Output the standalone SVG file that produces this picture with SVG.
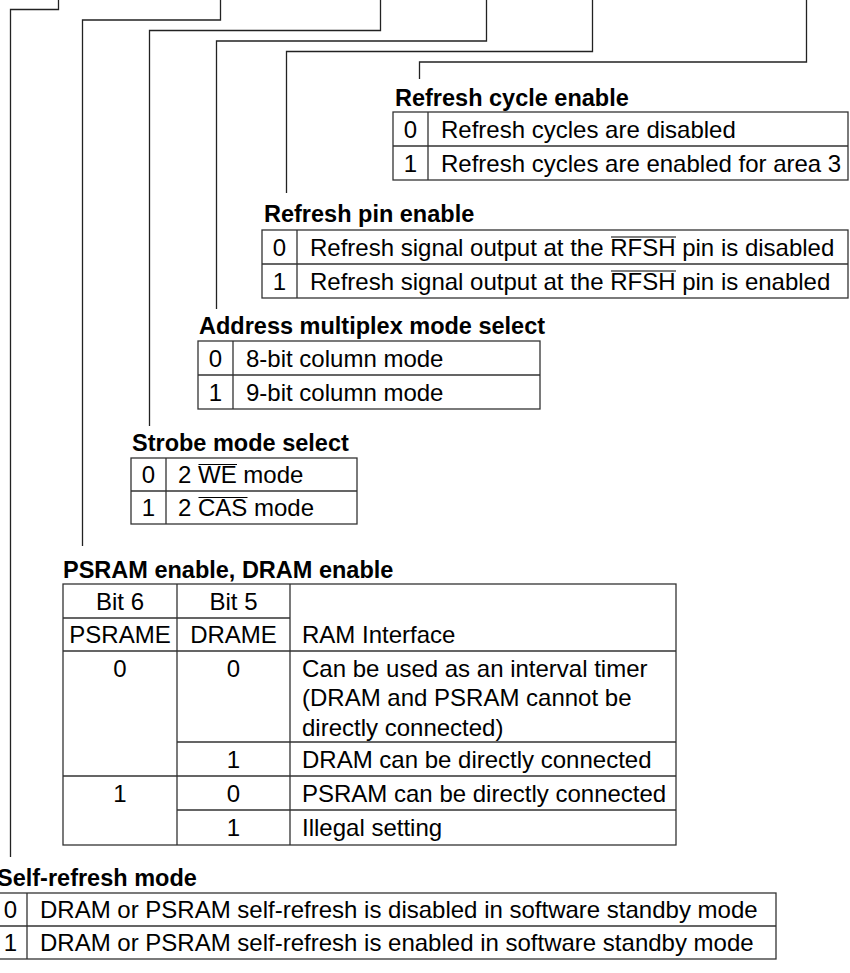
<svg xmlns="http://www.w3.org/2000/svg" width="850" height="973" viewBox="0 0 850 973">
<style>
.t{font-family:"Liberation Sans",Arial,sans-serif;font-size:24px;fill:#000}
.h{font-family:"Liberation Sans",Arial,sans-serif;font-size:23.5px;font-weight:bold;fill:#000}
.m{text-anchor:middle}
.b{fill:none;stroke:#333;stroke-width:1.3}
.c{fill:none;stroke:#222;stroke-width:1.3}
.ol{fill:none;stroke:#000;stroke-width:1.1}
</style>
<rect width="850" height="973" fill="#fff"/>
<g id="connectors">
<path class="c" d="M58.5,0 V9.5 H10.5 V857"/>
<path class="c" d="M220.5,0 V20 H82.5 V546"/>
<path class="c" d="M380.5,0 V30.5 H149.5 V426"/>
<path class="c" d="M486.5,0 V41 H216.5 V309"/>
<path class="c" d="M592.5,0 V51.5 H286.5 V193"/>
<path class="c" d="M806.5,0 V62 H419.5 V79"/>
</g>
<g id="refresh-cycle-enable">
<text class="h" x="395" y="106">Refresh cycle enable</text>
<rect class="b" x="393" y="112" width="455" height="68"/>
<path class="b" d="M428,112 V180 M393,146 H848"/>
<text class="t m" x="410.5" y="137.5">0</text>
<text class="t" x="441" y="137.5">Refresh cycles are disabled</text>
<text class="t m" x="410.5" y="171.5">1</text>
<text class="t" x="441" y="171.5">Refresh cycles are enabled for area 3</text>
</g>
<g id="refresh-pin-enable">
<text class="h" x="264" y="222">Refresh pin enable</text>
<rect class="b" x="262" y="230" width="586" height="68"/>
<path class="b" d="M297,230 V298 M262,264 H848"/>
<text class="t m" x="279.5" y="255.5">0</text>
<text class="t" x="310" y="255.5">Refresh signal output at the RFSH pin is disabled</text>
<path class="ol" d="M611,237 H676"/>
<text class="t m" x="279.5" y="289.5">1</text>
<text class="t" x="310" y="289.5">Refresh signal output at the RFSH pin is enabled</text>
<path class="ol" d="M611,271 H676"/>
</g>
<g id="address-multiplex-mode-select">
<text class="h" x="199" y="334">Address multiplex mode select</text>
<rect class="b" x="198" y="341" width="342" height="68"/>
<path class="b" d="M233,341 V409 M198,375 H540"/>
<text class="t m" x="215.5" y="366.5">0</text>
<text class="t" x="246" y="366.5">8-bit column mode</text>
<text class="t m" x="215.5" y="400.5">1</text>
<text class="t" x="246" y="400.5">9-bit column mode</text>
</g>
<g id="strobe-mode-select">
<text class="h" x="132" y="451">Strobe mode select</text>
<rect class="b" x="131" y="458" width="226" height="66"/>
<path class="b" d="M166,458 V524 M131,491 H357"/>
<text class="t m" x="148.5" y="483">0</text>
<text class="t" x="178" y="483">2 WE mode</text>
<path class="ol" d="M198.5,464.5 H237"/>
<text class="t m" x="148.5" y="516">1</text>
<text class="t" x="178" y="516">2 CAS mode</text>
<path class="ol" d="M198.5,497.5 H247.5"/>
</g>
<g id="psram-dram-enable">
<text class="h" x="63" y="578">PSRAM enable, DRAM enable</text>
<rect class="b" x="63" y="584" width="613" height="261"/>
<path class="b" d="M177,584 V845 M290,584 V845 M63,618 H290 M63,651 H676 M177,742 H676 M63,776 H676 M177,810 H676"/>
<text class="t m" x="120" y="609.5">Bit 6</text>
<text class="t m" x="233.5" y="609.5">Bit 5</text>
<text class="t m" x="120" y="643">PSRAME</text>
<text class="t m" x="233.5" y="643">DRAME</text>
<text class="t" x="302" y="643">RAM Interface</text>
<text class="t m" x="120" y="676.5">0</text>
<text class="t m" x="233.5" y="676.5">0</text>
<text class="t" x="302" y="676.5">Can be used as an interval timer</text>
<text class="t" x="302" y="706">(DRAM and PSRAM cannot be</text>
<text class="t" x="302" y="735.5">directly connected)</text>
<text class="t m" x="233.5" y="767.5">1</text>
<text class="t" x="302" y="767.5">DRAM can be directly connected</text>
<text class="t m" x="120" y="801.5">1</text>
<text class="t m" x="233.5" y="801.5">0</text>
<text class="t" x="302" y="801.5">PSRAM can be directly connected</text>
<text class="t m" x="233.5" y="835.5">1</text>
<text class="t" x="302" y="835.5">Illegal setting</text>
</g>
<g id="self-refresh-mode">
<text class="h" x="-3" y="886">Self-refresh mode</text>
<rect class="b" x="-6" y="893" width="782" height="66"/>
<path class="b" d="M27,893 V959 M-6,926 H776"/>
<text class="t m" x="10.5" y="918">0</text>
<text class="t" x="40" y="918">DRAM or PSRAM self-refresh is disabled in software standby mode</text>
<text class="t m" x="10.5" y="951">1</text>
<text class="t" x="40" y="951">DRAM or PSRAM self-refresh is enabled in software standby mode</text>
</g>
</svg>
